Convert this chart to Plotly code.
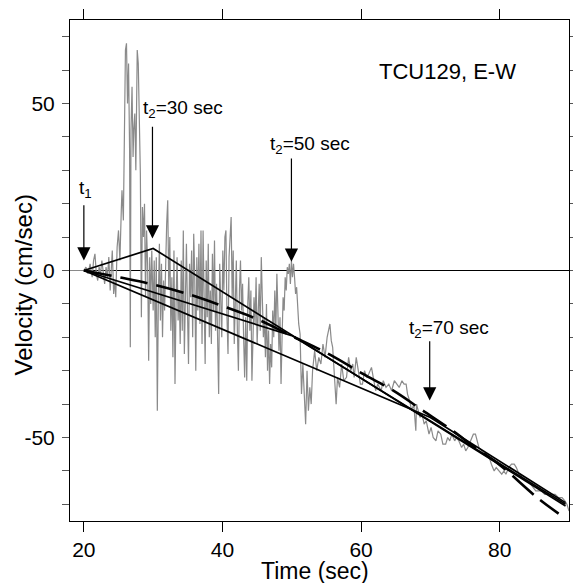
import plotly.graph_objects as go

# ---------------- data ----------------
time_s = [18.0, 19.5, 20.0, 20.3, 20.6, 20.9, 21.2, 21.4, 21.6, 21.8, 22.0, 22.2, 22.4, 22.6, 22.8,
          23.0, 23.2, 23.4, 23.6, 23.8, 24.0, 24.1, 24.3, 24.5, 24.6, 24.8, 25.0, 25.2, 25.4, 25.5,
          25.7, 25.85, 26.0, 26.15, 26.3, 26.45, 26.6, 26.7, 26.8, 26.95, 27.1, 27.2, 27.35, 27.5,
          27.7, 27.85, 28.0, 28.15, 28.3, 28.45, 28.6, 28.75, 28.9, 29.05, 29.2, 29.35, 29.5, 29.65,
          29.8, 30.0, 30.15, 30.3, 30.45, 30.6, 30.75, 30.9, 31.05, 31.2, 31.35, 31.5, 31.65, 31.8,
          31.95, 32.1, 32.25, 32.4, 32.55, 32.7, 32.85, 33.0, 33.15, 33.3, 33.45, 33.6, 33.75, 33.9,
          34.05, 34.2, 34.35, 34.5, 34.65, 34.8, 34.95, 35.1, 35.25, 35.4, 35.55, 35.7, 35.85, 36.0,
          36.15, 36.3, 36.45, 36.6, 36.75, 36.9, 37.05, 37.2, 37.35, 37.5, 37.65, 37.8, 37.95, 38.1,
          38.25, 38.4, 38.55, 38.7, 38.85, 39.0, 39.15, 39.3, 39.45, 39.6, 39.75, 39.9, 40.05, 40.2,
          40.35, 40.5, 40.65, 40.8, 40.95, 41.1, 41.25, 41.4, 41.55, 41.7, 41.85, 42.0, 42.15, 42.3,
          42.45, 42.6, 42.75, 42.9, 43.05, 43.2, 43.35, 43.5, 43.65, 43.8, 43.95, 44.1, 44.25, 44.4,
          44.55, 44.7, 44.85, 45.0, 45.15, 45.3, 45.45, 45.6, 45.75, 45.9, 46.05, 46.2, 46.35, 46.5,
          46.65, 46.8, 46.95, 47.1, 47.25, 47.4, 47.55, 47.7, 47.85, 48.0, 48.15, 48.3, 48.45, 48.6,
          48.75, 48.9, 49.05, 49.2, 49.35, 49.5, 49.65, 49.8, 49.95, 50.1, 50.25, 50.4, 50.55, 50.7,
          50.85, 51.0, 51.2, 51.4, 51.6, 51.8, 52.0, 52.2, 52.4, 52.6, 52.8, 53.0, 53.3, 53.6, 53.9,
          54.2, 54.5, 54.8, 55.1, 55.5, 55.7, 55.9, 56.1, 56.4, 56.6, 56.9, 57.2, 57.5, 57.9, 58.2,
          58.5, 58.8, 59.0, 59.3, 59.6, 59.9, 60.2, 60.5, 60.8, 61.1, 61.5, 61.8, 62.1, 62.4, 62.9,
          63.2, 63.6, 64.0, 64.4, 64.8, 65.1, 65.5, 65.9, 66.2, 66.5, 66.7, 67.0, 67.3, 67.6, 67.8,
          67.9, 68.0, 68.2, 68.5, 68.8, 69.1, 69.4, 69.8, 70.1, 70.4, 70.8, 71.1, 71.5, 71.8, 72.2,
          72.5, 72.8, 73.1, 73.5, 73.8, 74.1, 74.5, 74.8, 75.1, 75.4, 75.8, 76.2, 76.5, 76.8, 77.0,
          77.4, 77.8, 78.1, 78.5, 78.8, 79.2, 79.5, 79.9, 80.3, 80.6, 80.9, 81.3, 81.7, 82.1, 82.4,
          82.8, 83.2, 83.7, 84.1, 84.5, 84.9, 85.2, 85.6, 86.0, 86.5, 87.1, 87.6, 88.0, 88.5, 89.0,
          89.4, 89.7, 90.0]
velocity = [0, 0, 0, 1, -1, 2, -2, 3, 5, -1, -3, 1, -1, 3, 0,
            -4, 1, -2, 4, -6, 2, 6, -7, -3, -8, 7, 12, 3, 18, 24,
            15, 45, 66, 68, 50, 62, 36, -23, 42, 55, 34, 42, 47, 30,
            66, 62, 40, 29, -14, 19, 10, 20, -8, 12, 2, -27, 4, -10,
            6, -12, 3, -20, 4, -42, -8, 8, -15, 2, -20, -3, -12, 5,
            14, 21, -5, 10, -18, -2, -26, 6, -34, -10, 4, -15, -6, -22,
            3, -18, 12, -25, -4, 8, -12, -28, 2, -8, 6, -20, 11, -2,
            -30, 4, -12, 8, -16, 12, -22, 12, -8, -28, 3, -14, 8, -20,
            -6, -22, 5, -12, 9, -18, -4, -26, -37, 2, -10, -20, 6, -6,
            10, 12, -14, -25, 4, 9, 16, -8, 6, -22, -12, 3, -18, -30,
            -6, 3, -12, -4, -20, -32, -14, -33, -10, -2, -18, -6, -33, -22,
            -8, -16, -2, -22, -12, -4, -18, 4, -8, -20, -14, -26, -10, -30,
            -18, -34, -22, -29, -12, -20, -6, -18, -1, -10, -24, -14, -34, -20,
            -8, -12, -2, -6, 1, -1, 2, -4, 3, -2, 2, -2, -7, -5,
            -12, -16, -19, -37, -28, -40, -46, -30, -42, -35, -40, -30, -24, -30, -26,
            -28, -22, -26, -20, -16, -21, -23, -30, -40, -32, -35, -28, -33, -32, -26,
            -30, -28, -32, -26, -30, -34, -34, -30, -32, -31, -29, -33, -36, -34, -36,
            -33, -35, -34, -36, -33, -34, -35, -33, -34, -34, -37, -39, -42, -40, -46,
            -48, -40, -42, -44, -43, -46, -45, -49, -47, -50, -51, -48, -49, -52, -52,
            -50, -51, -49, -51, -50, -51, -53, -52, -54, -53, -51, -49, -49, -51, -53,
            -54, -55, -55, -56, -58, -60, -59, -60, -61, -60, -61, -59, -58, -58, -59,
            -61, -62, -63, -63, -64, -65, -66, -66, -66, -67, -67, -67, -67, -68, -68,
            -69, -70, -72]

# bilinear baseline fits (t1 -> t2 -> end of record)
fit30_t = [20, 30, 89.5]
fit30_v = [0, 6.6, -70.5]
fit50_t = [20, 50, 89.5]
fit50_v = [0, -19.5, -70.0]
fit70_t = [20, 70, 89.5]
fit70_v = [0, -44.0, -69.5]

# dashed smooth baseline
curve_t = [20, 25.5, 29.8, 35.1, 40.1, 45.4, 50.0, 55.7, 60.2, 64.6, 68.9, 73.1, 76.3, 80.0, 85.3, 88.5]
curve_v = [0, -2.2, -4.1, -7.1, -10.7, -14.9, -19.6, -25.4, -30.9, -35.9, -41.9, -47.8, -52.8, -58.2, -67.8, -72.8]

# arrow markers
arrow_tips_t = [20, 29.9, 49.95, 69.9]
arrow_tips_v = [3.0, 9.6, 2.6, -38.9]
arrow_tails_v = [20.0, 43.5, 34.0, -20.7]
arrow_labels = ["t<sub>1</sub>", "t<sub>2</sub>=30 sec", "t<sub>2</sub>=50 sec", "t<sub>2</sub>=70 sec"]
label_t = [20.25, 34.3, 52.6, 72.7]
label_v = [24.5, 48.5, 37.5, -17.4]

station_label = "TCU129, E-W"
x_ticks = [20, 40, 60, 80]
y_ticks = [-70, -60, -50, -40, -30, -20, -10, 0, 10, 20, 30, 40, 50, 60, 70]
y_ticktext = ["", "", "-50", "", "", "", "", "0", "", "", "", "", "50", "", ""]

FONT = "Liberation Sans, Arial, Helvetica, sans-serif"

fig = go.Figure()
fig.add_trace(go.Scatter(x=time_s, y=velocity, mode="lines",
                         line=dict(color="#8a8a8a", width=1.2), hoverinfo="skip"))
for tt, vv in [(fit30_t, fit30_v), (fit50_t, fit50_v), (fit70_t, fit70_v)]:
    fig.add_trace(go.Scatter(x=tt, y=vv, mode="lines",
                             line=dict(color="black", width=1.7), hoverinfo="skip"))
fig.add_trace(go.Scatter(x=curve_t, y=curve_v, mode="lines", line_shape="spline",
                         line=dict(color="black", width=2.6, dash="28px,9px"), hoverinfo="skip"))

annotations = []
for i in range(len(arrow_tips_t)):
    annotations.append(dict(x=arrow_tips_t[i], y=arrow_tips_v[i], xref="x", yref="y",
                            ax=arrow_tips_t[i], ay=arrow_tails_v[i], axref="x", ayref="y",
                            text="", showarrow=True, arrowhead=2, arrowsize=2.2,
                            arrowwidth=1.2, arrowcolor="black", standoff=0))
    annotations.append(dict(x=label_t[i], y=label_v[i], xref="x", yref="y", text=arrow_labels[i],
                            showarrow=False, font=dict(family=FONT, size=19, color="black"),
                            xanchor="center", yanchor="middle"))
annotations.append(dict(x=72.5, y=59.6, xref="x", yref="y", text=station_label, showarrow=False,
                        font=dict(family=FONT, size=22, color="black"), xanchor="center", yanchor="middle"))
annotations.append(dict(x=0.5, y=0, xref="paper", yref="paper", text="Time (sec)", showarrow=False,
                        font=dict(family=FONT, size=23, color="black"), xanchor="center", yanchor="middle",
                        yshift=-50, xshift=-5))
annotations.append(dict(x=0, y=0.5, xref="paper", yref="paper", text="Velocity (cm/sec)", showarrow=False,
                        font=dict(family=FONT, size=24, color="black"), xanchor="center", yanchor="middle",
                        textangle=-90, xshift=-47, yshift=-15))

fig.update_layout(
    width=573, height=583,
    margin=dict(l=70, r=4, t=20, b=62, autoexpand=False),
    paper_bgcolor="white", plot_bgcolor="white",
    showlegend=False,
    font=dict(family=FONT, size=20, color="black"),
    annotations=annotations,
)
fig.update_xaxes(range=[18, 90], tickvals=x_ticks, ticks="outside", ticklen=10, tickwidth=1,
                 tickcolor="black", showline=True, linecolor="black", linewidth=1, mirror="ticks",
                 showgrid=False, zeroline=False, tickfont=dict(size=21), ticklabelstandoff=0)
fig.update_yaxes(range=[-75, 75], tickvals=y_ticks, ticktext=y_ticktext, ticks="outside", ticklen=7,
                 tickwidth=1, tickcolor="#555555", showline=True, linecolor="black", linewidth=1,
                 mirror="ticks", showgrid=False, zeroline=True, zerolinecolor="black", zerolinewidth=1,
                 tickfont=dict(size=21), ticklabelstandoff=3)

fig.write_html("out.html", config={"displayModeBar": False},
               post_script="document.body.style.margin='0';document.body.style.overflow='hidden';")
